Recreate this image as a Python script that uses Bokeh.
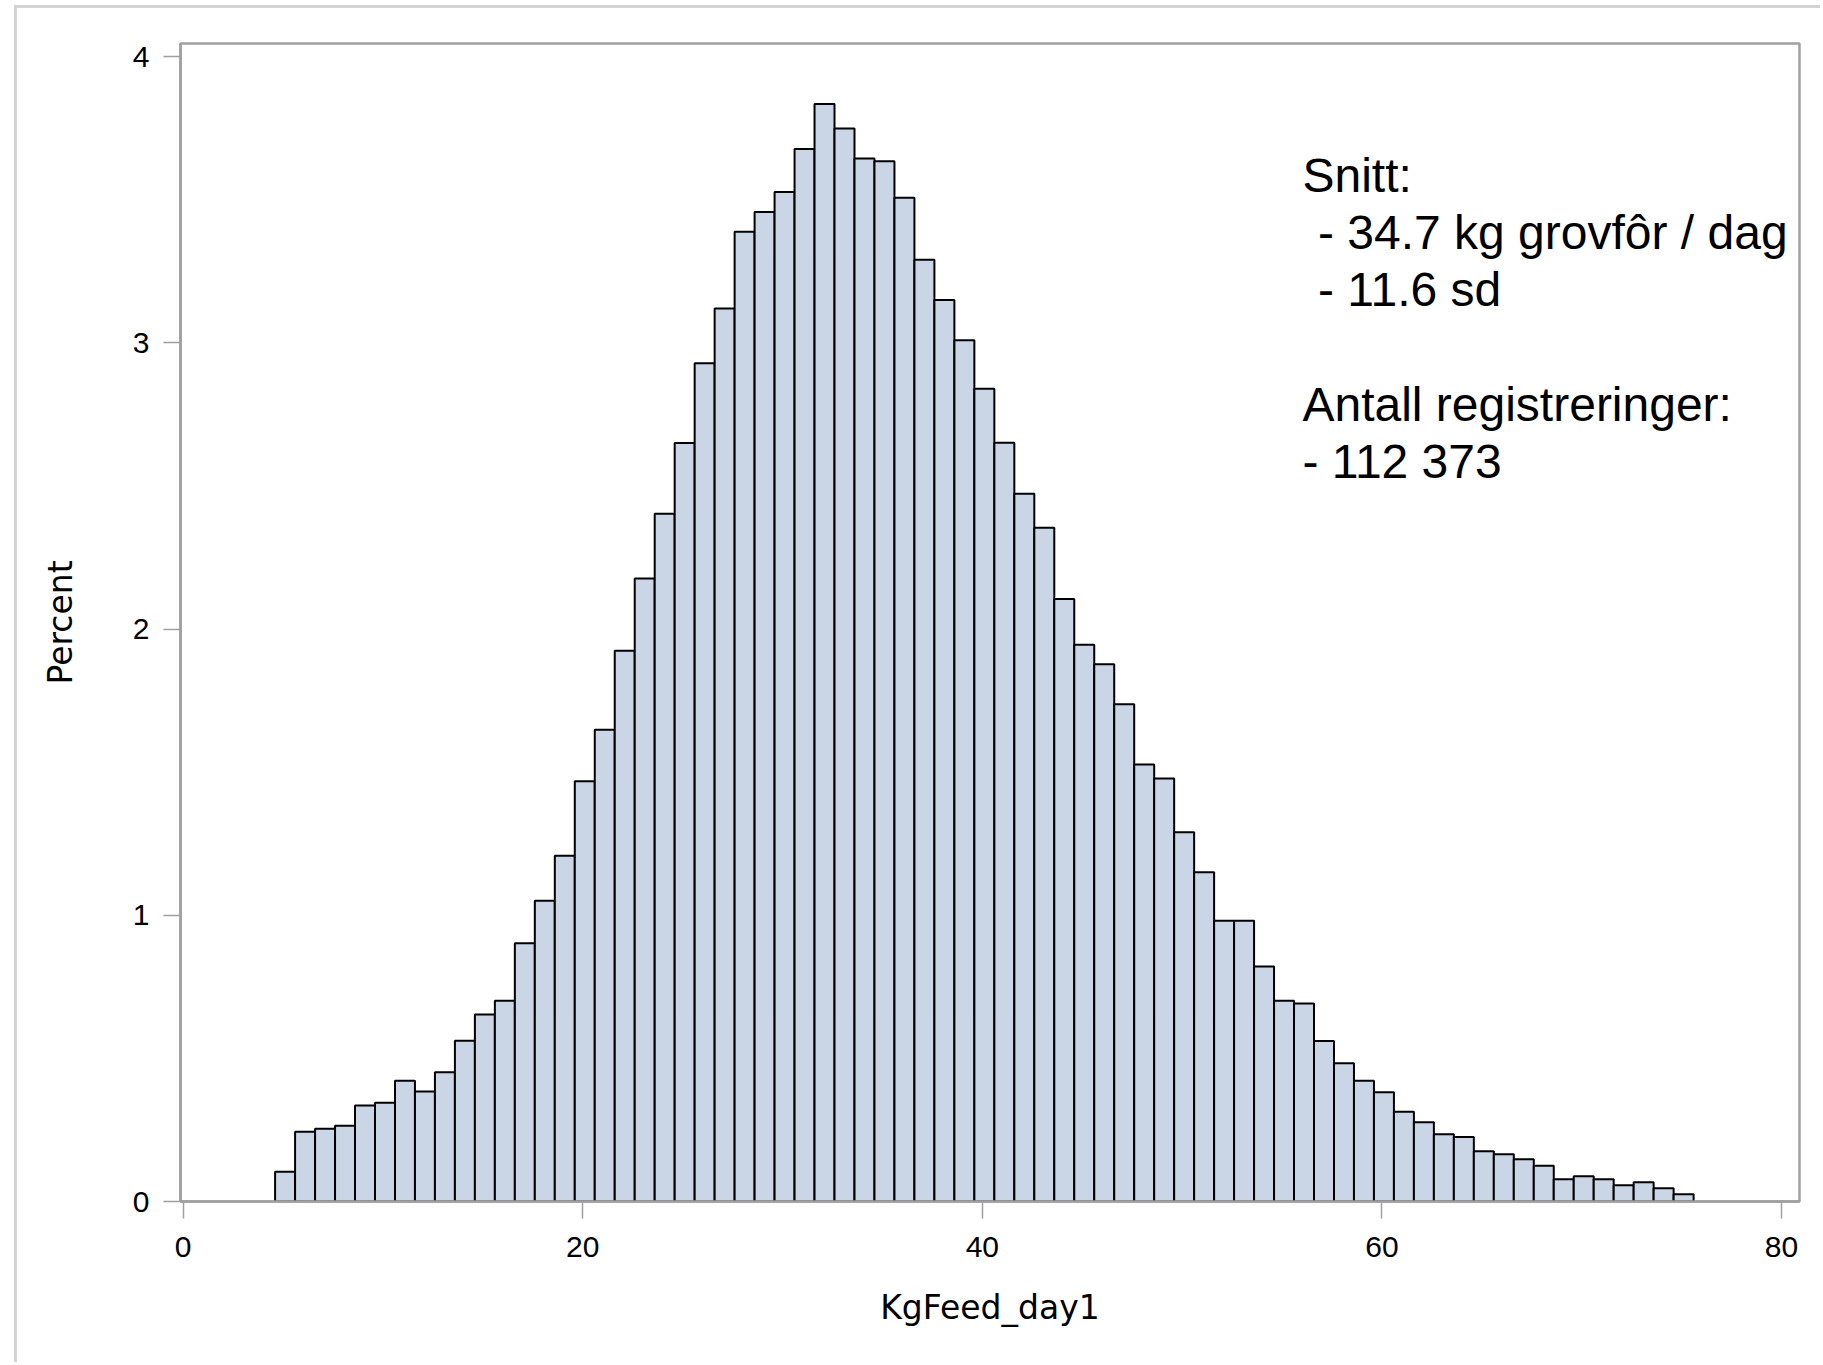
from bokeh.plotting import figure
from bokeh.models import Range1d, FixedTicker, Label
from bokeh.embed import file_html
from bokeh.resources import INLINE

# ---- data ----
bin_mid = [5.1 + i for i in range(71)]
percent = [
    0.104, 0.244, 0.254, 0.265, 0.335, 0.345, 0.422, 0.384, 0.452, 0.562,
    0.653, 0.701, 0.902, 1.051, 1.208, 1.468, 1.648, 1.924, 2.177, 2.403,
    2.650, 2.929, 3.120, 3.388, 3.457, 3.527, 3.677, 3.835, 3.749, 3.644,
    3.635, 3.507, 3.290, 3.150, 3.009, 2.840, 2.651, 2.473, 2.354, 2.105,
    1.945, 1.877, 1.737, 1.527, 1.478, 1.290, 1.150, 0.981, 0.981, 0.821,
    0.701, 0.692, 0.561, 0.483, 0.422, 0.382, 0.314, 0.277, 0.235, 0.225,
    0.176, 0.165, 0.148, 0.125, 0.078, 0.088, 0.078, 0.057, 0.067, 0.046,
    0.025,
]
bin_width = 1.0
x_ticks = [0, 20, 40, 60, 80]
y_ticks = [0, 1, 2, 3, 4]
x_label = "KgFeed_day1"
y_label = "Percent"
notes = ["Snitt:", "- 34.7 kg grovfôr / dag", "- 11.6 sd",
         "Antall registreringer:", "- 112 373"]

left = [m - bin_width / 2 for m in bin_mid]
right = [m + bin_width / 2 for m in bin_mid]

AX = "#A0A0A0"

p = figure(width=1806, height=1357, output_backend="svg", toolbar_location=None,
           x_range=Range1d(-0.135, 80.9), y_range=Range1d(0, 4.046),
           min_border_left=163, min_border_right=24,
           min_border_top=35, min_border_bottom=164)
p.styles = {"margin-left": "14px", "margin-top": "5px",
            "border-left": "3px solid #D3D3D3", "border-top": "3px solid #D3D3D3"}

p.quad(left=left, right=right, top=percent, bottom=0,
       fill_color="#CAD5E5", line_color="black", line_width=2)

p.grid.visible = False
p.outline_line_color = AX
p.outline_line_width = 2.5
p.background_fill_color = "white"
p.border_fill_color = "white"

p.xaxis.ticker = FixedTicker(ticks=x_ticks, minor_ticks=[])
p.yaxis.ticker = FixedTicker(ticks=y_ticks, minor_ticks=[])
p.xaxis.axis_label = x_label
p.yaxis.axis_label = y_label

for ax in (p.xaxis, p.yaxis):
    ax.axis_line_color = AX
    ax.axis_line_width = 2.5
    ax.major_tick_line_color = AX
    ax.major_tick_line_width = 1.5
    ax.major_tick_out = 17
    ax.major_tick_in = 0
    ax.minor_tick_out = 0
    ax.minor_tick_in = 0
    ax.major_label_text_font = "Liberation Sans"
    ax.major_label_text_font_size = "30px"
    ax.major_label_text_color = "black"
    ax.axis_label_text_font = "DejaVu Sans"
    ax.axis_label_text_font_size = "33px"
    ax.axis_label_text_font_style = "normal"
    ax.axis_label_text_color = "black"

p.xaxis.major_label_standoff = 18
p.xaxis.axis_label_standoff = 28
p.yaxis.major_label_standoff = 14
p.yaxis.axis_label_standoff = 50

note_x = [56.02, 56.8, 56.8, 56.02, 56.02]
note_y = [3.586, 3.386, 3.186, 2.786, 2.586]
for t, xx, yy in zip(notes, note_x, note_y):
    p.add_layout(Label(x=xx, y=yy, text=t, text_font="Liberation Sans",
                       text_font_size="48px", text_color="black",
                       text_baseline="alphabetic", text_align="left"))

open("out.html", "w").write(file_html(p, INLINE))
